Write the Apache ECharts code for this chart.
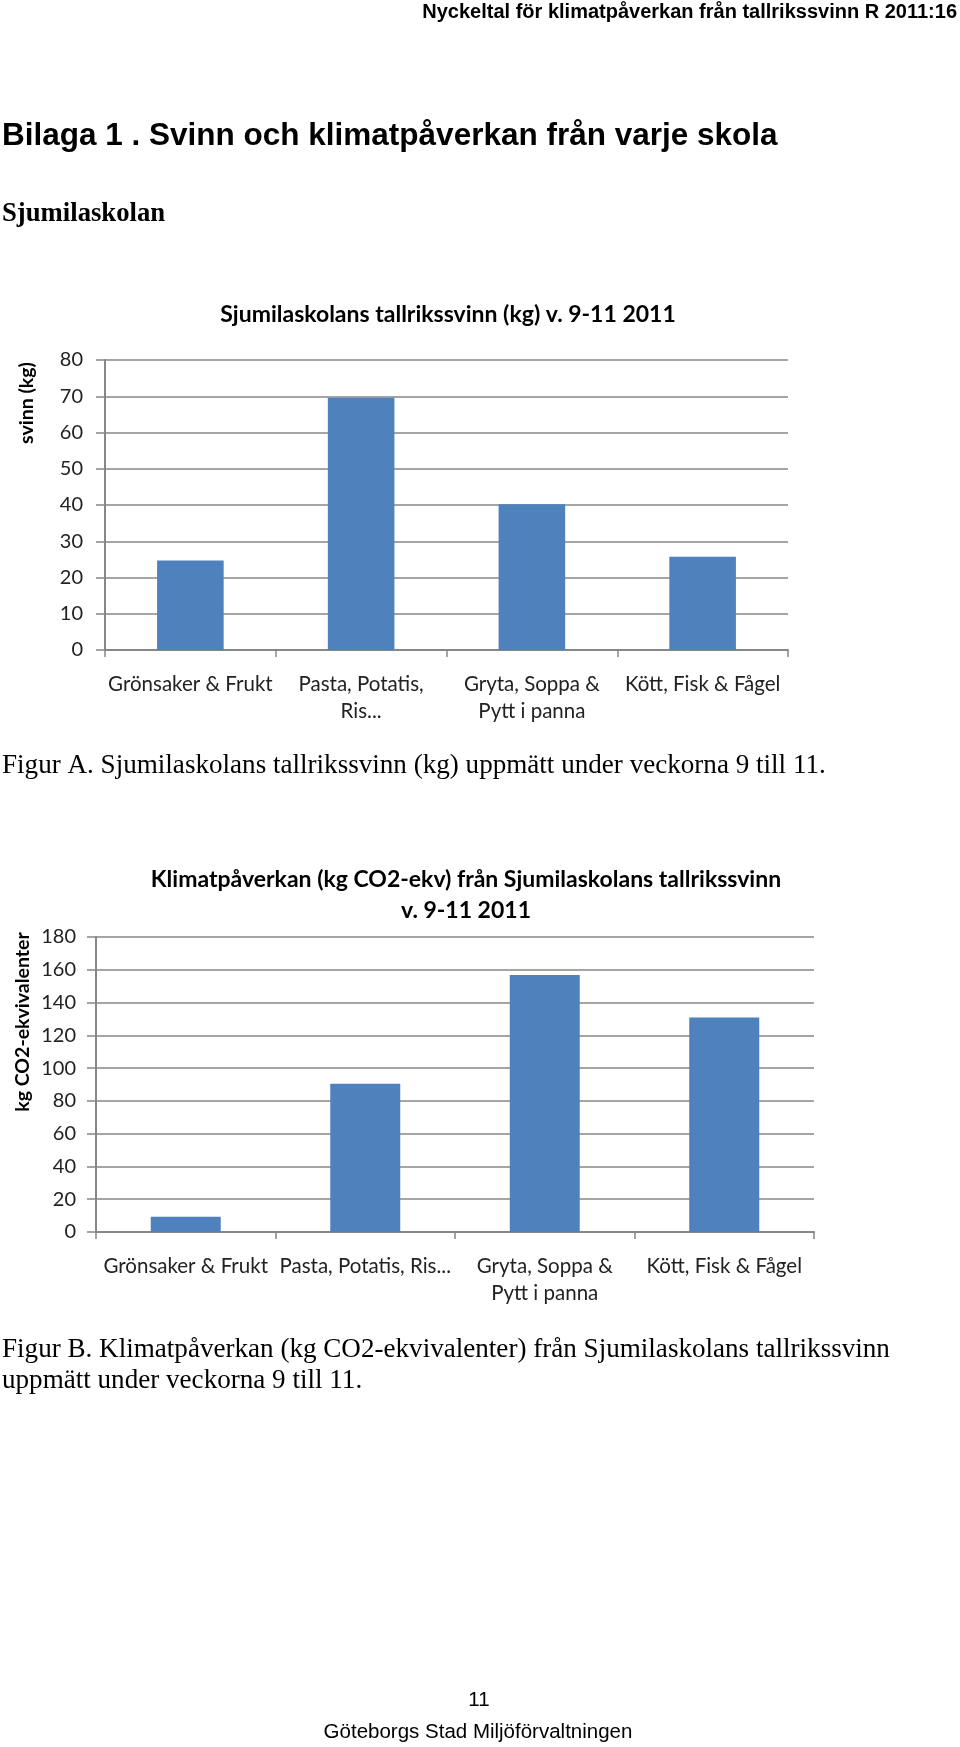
<!DOCTYPE html>
<html>
<head>
<meta charset="utf-8">
<script src="https://cdn.jsdelivr.net/npm/echarts@6/dist/echarts.min.js"></script>
<style>
html, body { margin: 0; padding: 0; background: #fff; }
#page { width: 960px; height: 1747px; }
</style>
</head>
<body>
<div id="page"></div>
<script>
// kategorier
const categoriesA = ['Grönsaker & Frukt', 'Pasta, Potatis,\nRis...', 'Gryta, Soppa &\nPytt i panna', 'Kött, Fisk & Fågel'];
const categoriesB = ['Grönsaker & Frukt', 'Pasta, Potatis, Ris...', 'Gryta, Soppa &\nPytt i panna', 'Kött, Fisk & Fågel'];
// svinn (kg) v. 9-11
const svinnKg = [24.7, 69.6, 40.2, 25.7];
// kg CO2-ekv
const co2Ekv = [9.3, 90.4, 156.8, 130.9];
// y-axlar
const yTicksA = [0, 10, 20, 30, 40, 50, 60, 70, 80];
const yTicksB = [0, 20, 40, 60, 80, 100, 120, 140, 160, 180];

const gridColor = '#878787';
const barColor = '#4f81bd';
const chartFont = 'Lato, "Open Sans", sans-serif';
const sans = '"Liberation Sans", Arial, sans-serif';
const serif = '"Liberation Serif", "Times New Roman", serif';

function txt(text, x, y, size, family, weight, align, rot) {
  return {
    type: 'text', x: x, y: y, rotation: rot || 0, silent: true,
    style: {
      text: text, fontSize: size, fontFamily: family, fontWeight: weight || 'normal',
      fill: '#000', align: align || 'left', verticalAlign: 'middle'
    }
  };
}

function xAxisFor(cats, idx) {
  return {
    type: 'category', gridIndex: idx, data: cats, boundaryGap: true,
    axisLine: { lineStyle: { color: gridColor, width: 2 } },
    axisTick: { show: true, length: 7, alignWithLabel: false, lineStyle: { color: gridColor, width: 1.5 } },
    axisLabel: { color: '#222', fontFamily: chartFont, fontSize: 20.5, margin: 21, lineHeight: 27, interval: 0 }
  };
}

function yAxisFor(ticks, idx, margin) {
  return {
    type: 'value', gridIndex: idx,
    min: ticks[0], max: ticks[ticks.length - 1], interval: ticks[1] - ticks[0],
    axisLine: { show: true, lineStyle: { color: gridColor, width: 2 } },
    axisTick: { show: true, length: 9, lineStyle: { color: gridColor, width: 1.5 } },
    splitLine: { show: true, lineStyle: { color: gridColor, width: 1.6 } },
    axisLabel: { color: '#222', fontFamily: chartFont, fontSize: 20, margin: margin }
  };
}

let myChart = echarts.init(document.getElementById('page'), null, { renderer: 'canvas' });
myChart.setOption({
  backgroundColor: '#fff',
  animation: false,
  grid: [
    { left: 105, right: 172, top: 360, height: 290 },
    { left: 96, right: 146, top: 937, height: 295 }
  ],
  xAxis: [xAxisFor(categoriesA, 0), xAxisFor(categoriesB, 1)],
  yAxis: [yAxisFor(yTicksA, 0, 22), yAxisFor(yTicksB, 1, 20)],
  series: [
    { type: 'bar', xAxisIndex: 0, yAxisIndex: 0, data: svinnKg, barWidth: '39%', itemStyle: { color: barColor } },
    { type: 'bar', xAxisIndex: 1, yAxisIndex: 1, data: co2Ekv, barWidth: '39%', itemStyle: { color: barColor } }
  ],
  graphic: [
    // sidhuvud
    txt('Nyckeltal för klimatpåverkan från tallrikssvinn R 2011:16', 957, 12, 20, sans, 'bold', 'right'),
    txt('Bilaga 1 . Svinn och klimatpåverkan från varje skola', 2, 136, 31.5, sans, 'bold'),
    txt('Sjumilaskolan', 2, 214, 26.7, serif, 'bold'),
    // diagram A
    txt('Sjumilaskolans tallrikssvinn (kg) v. 9-11 2011', 448, 315, 23, chartFont, 'bold', 'center'),
    txt('svinn (kg)', 27, 403, 19.5, chartFont, 'bold', 'center', Math.PI / 2),
    txt('Figur A. Sjumilaskolans tallrikssvinn (kg) uppmätt under veckorna 9 till 11.', 2, 766, 27.1, serif),
    // diagram B
    txt('Klimatpåverkan (kg CO2-ekv) från Sjumilaskolans tallrikssvinn', 466, 880, 23, chartFont, 'bold', 'center'),
    txt('v. 9-11 2011', 466, 911, 23, chartFont, 'bold', 'center'),
    txt('kg CO2-ekvivalenter', 23, 1022, 19.5, chartFont, 'bold', 'center', Math.PI / 2),
    txt('Figur B. Klimatpåverkan (kg CO2-ekvivalenter) från Sjumilaskolans tallrikssvinn', 2, 1350, 27.1, serif),
    txt('uppmätt under veckorna 9 till 11.', 2, 1381, 27.1, serif),
    // sidfot
    txt('11', 479, 1700, 20.5, sans, 'normal', 'center'),
    txt('Göteborgs Stad Miljöförvaltningen', 478, 1732, 20.5, sans, 'normal', 'center')
  ]
});
</script>
</body>
</html>
